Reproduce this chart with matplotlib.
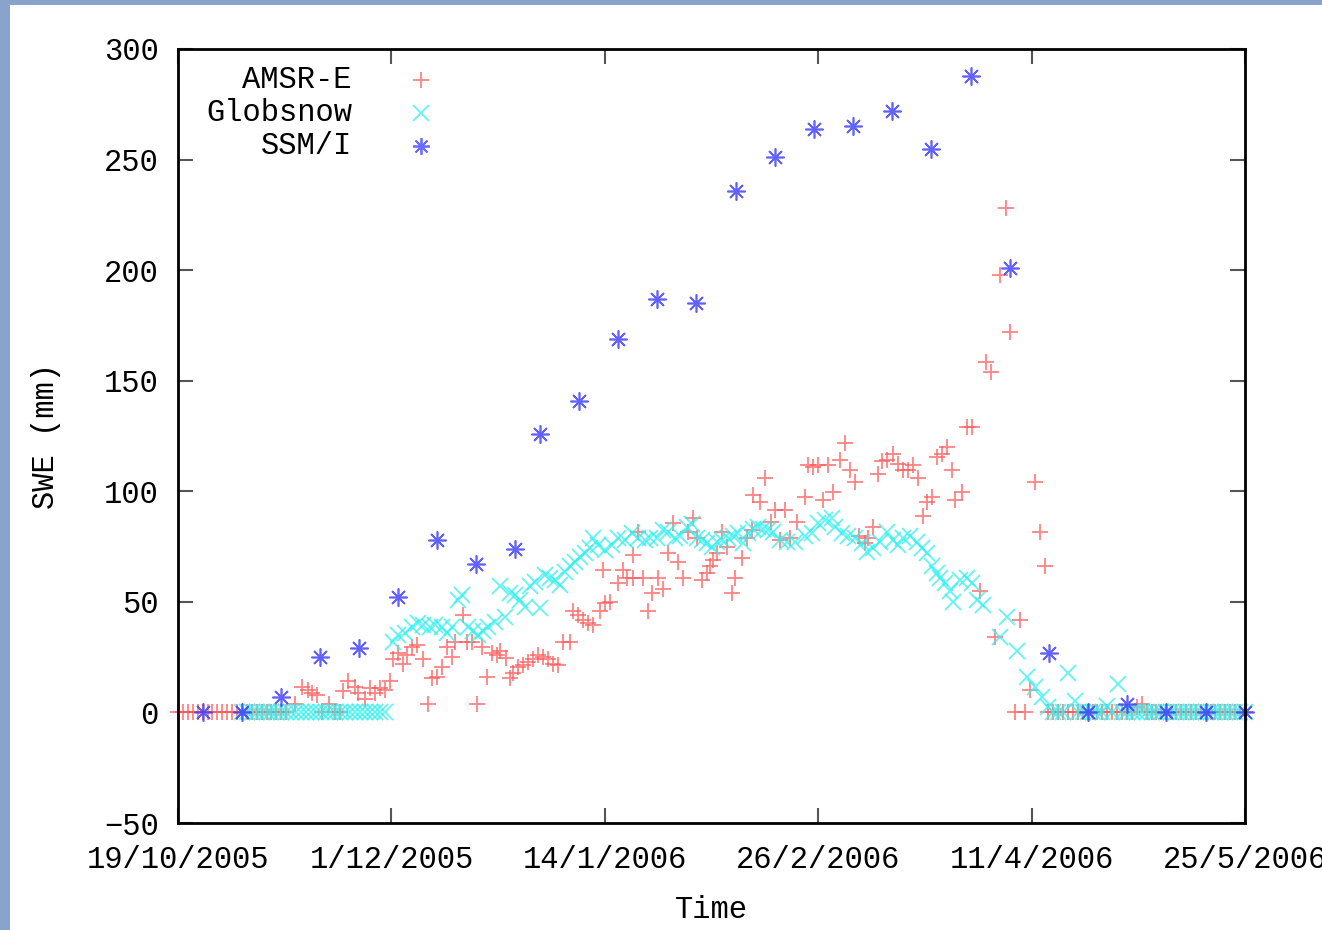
import numpy as np
import matplotlib.pyplot as plt
from matplotlib.patches import Rectangle

# days since 19/10/2005
tick_days = [0, 43.4, 86.8, 130.2, 173.6, 217]
tick_labels = ['19/10/2005', '1/12/2005', '14/1/2006', '26/2/2006', '11/4/2006', '25/5/2006']

# AMSR-E (red +)
amsr_days = list(range(0, 23)) + [
    23.8, 25.2, 26.4, 27.3, 28.3, 29.3, 30.7, 31.9, 32.9, 33.6, 34.6, 36.0, 36.6, 38.0, 39.0,
    40.0, 41.1, 42.1, 43.1, 43.7, 44.7, 45.8, 46.6, 47.6, 48.6, 49.8, 50.8, 51.7, 52.7, 53.7,
    54.7, 55.7, 56.3, 58.0, 58.8, 59.8, 60.8, 61.8, 62.8, 63.9, 64.9, 65.5, 66.7, 67.5, 68.1,
    69.1, 70.2, 71.2, 72.2, 73.2, 74.2, 75.2, 76.3, 77.3, 78.3, 79.7, 80.3, 81.4, 82.4, 83.4,
    84.4, 85.8, 86.4, 86.8, 87.9, 89.5, 90.5, 91.3, 92.5, 92.5, 93.5, 94.6, 95.6, 96.4, 97.6,
    98.6, 99.7, 100.7, 101.7, 102.7, 103.7, 104.7, 105.6, 106.6, 107.6, 108.2, 108.8, 109.6,
    110.6, 111.7, 112.7, 113.3, 114.7, 115.7, 116.7, 116.9, 118.4, 119.4, 120.5, 121.5, 122.4,
    123.4, 124.5, 125.9, 127.5, 128.1, 129.1, 130.2, 131.2, 132.2, 133.2, 134.6, 135.7, 136.7,
    137.7, 138.5, 139.7, 140.3, 141.3, 142.4, 143.2, 144.2, 145.4, 146.4, 147.4, 148.5, 149.5,
    150.5, 151.5, 152.3, 153.3, 154.4, 155.4, 156.4, 157.4, 158.0, 159.4, 160.5, 161.5, 163.1,
    164.3, 165.3, 166.2, 167.2, 168.4, 169.2, 170.2, 171.2, 172.3, 173.3, 174.3, 175.3, 176.3,
] + [d for d in range(177, 218) if d not in (195, 196)] + [195, 196]
amsr_swe = [0] * 23 + [
    4, 11.5, 10, 9, 8, 0, 4, 0, 0, 9.7, 14, 11.5, 9, 6, 11,
    9, 11, 10, 14, 24, 27, 22, 26, 29.5, 30.5, 24, 4, 15.5, 16, 20.5,
    29.5, 25, 32, 44, 32, 32, 4, 29.5, 16, 27, 26, 28, 24.5, 15.5, 18,
    20.5, 21.5, 23, 24, 26, 25, 24, 22, 21.5, 32, 32, 46, 44, 42, 40.5,
    39.5, 46, 64.5, 49.5, 50, 58.5, 64.5, 61, 61, 71, 81.5, 61, 46, 54, 61,
    56, 72, 85.5, 68, 61, 81.5, 88, 79, 60, 63, 66, 69, 72,
    81.5, 75, 54, 61, 70, 79, 82.5, 98.5, 95, 106, 86, 91.5, 78,
    91.5, 79, 86, 97.5, 112, 111, 112, 96, 112, 99.5, 114, 122, 109.5,
    104, 80, 76.5, 79, 84, 108, 113.5, 114, 117, 112.5, 109.5, 109.5, 112,
    106, 89, 95, 97.5, 115.5, 117, 120, 109.5, 96, 99.5, 129, 129, 55,
    158.5, 154, 34, 198, 228, 172, 0, 42, 0, 10, 104, 81.5, 66,
] + [0] * 39 + [2.5, 4]

# Globsnow (cyan x)
glob_days = list(range(13, 43)) + [
    43.7, 44.7, 46.2, 47.6, 48.8, 49.8, 51.3, 52.3, 53.7, 54.7, 55.7, 56.9, 57.8, 59.0, 60.0,
    61.0, 62.0, 63.0, 64.5, 65.5, 66.5, 67.5, 68.5, 69.6, 70.6, 71.6, 72.6, 73.6, 74.6, 75.7,
    76.7, 77.7, 78.7, 79.7, 80.7, 81.8, 82.8, 83.8, 84.4, 85.4, 86.8, 88.3, 89.5, 90.9, 92.3,
    93.6, 95.0, 96.0, 97.4, 98.6, 99.7, 101.1, 102.1, 103.5, 104.5, 105.6, 106.6, 107.6, 108.6,
    109.6, 110.6, 111.9, 112.9, 113.9, 114.9, 115.9, 116.9, 118.0, 119.0, 120.0, 121.0, 122.4,
    123.9, 125.5, 127.5, 128.9, 130.2, 131.6, 133.0, 133.6, 135.0, 136.3, 137.7, 139.1, 140.1,
    141.3, 142.8, 144.2, 145.4, 146.4, 147.4, 148.9, 150.3, 151.3, 152.3, 153.3, 154.4, 155.0,
    156.0, 157.0, 157.6, 159.0, 160.5, 161.5, 162.5, 163.7, 167.2, 168.6, 170.6, 172.7, 174.3,
    175.7, 176.9, 181.0, 182.4, 188.9, 191.2,
] + [d for d in range(178, 218) if d not in (181, 182, 189, 191)]
glob_swe = [0] * 30 + [
    32, 35, 36, 38.5, 40.5, 39.5, 38.5, 39.5, 38.5, 36, 38.5, 51, 53, 38.5, 37,
    35, 37, 38.5, 41, 57, 43, 54, 53, 51, 47.5, 57, 59, 47, 62, 61,
    60, 57.5, 63.5, 66, 68, 70.5, 72, 74.5, 79, 75.5, 73.5, 75.5, 79, 78, 81,
    79, 78, 79, 79, 82.5, 81.5, 79, 80, 84, 85, 79, 78, 76.5, 75,
    77, 78, 79, 80, 81, 76.5, 81, 83, 84, 83, 82.5, 81.5, 78,
    77, 77, 80, 81, 85.5, 87, 88, 84, 81, 80, 79, 76.5, 72.5,
    74.5, 77, 81.5, 78, 75.5, 79, 80, 77, 74.5, 72, 66, 63, 61,
    58.5, 55, 50, 60, 61, 58.5, 51, 48.5, 34, 43, 28, 16, 11.5,
    7, 2.5, 18, 5, 3, 13,
] + [0] * 36

# SSM/I (blue asterisk)
ssmi_days = [5.1, 13.0, 20.9, 28.9, 36.8, 44.7, 52.7, 60.6, 68.5, 73.6, 81.6, 89.5, 97.4, 105.3,
             113.5, 121.4, 129.3, 137.3, 145.2, 153.1, 161.3, 169.2, 177.1, 185.1, 193.0, 200.9,
             209.1, 217.0]
ssmi_swe = [0, 0, 7, 25, 29, 52, 78, 67, 74, 126, 141, 169, 187, 185,
            236, 251, 264, 265, 272, 255, 288, 201, 27, 0, 4, 0,
            0, 0]

plt.rcParams['font.family'] = ['Liberation Mono', 'DejaVu Sans Mono']
plt.rcParams['font.size'] = 22

fig = plt.figure(figsize=(13.22, 9.30), dpi=100, facecolor='#8aa3cc')
fig.patches.append(Rectangle((10 / 1322, 0), 1, 925 / 930, transform=fig.transFigure,
                             facecolor='white', edgecolor='none', zorder=-10))
ax = fig.add_axes([178 / 1322, 107 / 930, 1067 / 1322, 774 / 930])

red = '#ff5a5a'
cyan = '#30f0f0'
blue = '#3a3aff'
ax.plot(amsr_days, amsr_swe, ls='none', marker='+', ms=12, mew=1.3, color=red, alpha=0.75, clip_on=False)
ax.plot(glob_days, glob_swe, ls='none', marker='x', ms=12, mew=1.3, color=cyan, alpha=0.75, clip_on=False)
ax.plot(ssmi_days, ssmi_swe, ls='none', marker=(8, 2, 0), ms=13, mew=1.2, color=blue, alpha=0.8, clip_on=False)

ax.set_xlim(0, 217)
ax.set_ylim(-50, 300)
ax.set_xticks(tick_days)
ax.set_xticklabels(tick_labels)
ax.set_yticks(np.arange(-50, 301, 50))
ax.tick_params(direction='in', length=11, width=1.5, color='#555555', top=True, right=True)
ax.tick_params(axis='x', pad=16)
ax.tick_params(axis='y', pad=14)
for s in ax.spines.values():
    s.set_linewidth(2)

ax.set_xlabel('Time', labelpad=14)
ax.set_ylabel('SWE (mm)', labelpad=31)

# legend, gnuplot style: right-aligned text then sample
names = ['AMSR-E', 'Globsnow', 'SSM/I']
markers = ['+', 'x', (8, 2, 0)]
colors = [red, cyan, blue]
for i in range(3):
    yy = 0.9600 - i * 0.0427
    ax.text(0.163, yy, names[i], transform=ax.transAxes, ha='right', va='center')
    ax.plot([0.228], [yy], transform=ax.transAxes, marker=markers[i], ms=12, mew=1.3,
            color=colors[i], alpha=0.75, ls='none')

fig.savefig('out.png', dpi=100, facecolor=fig.get_facecolor())
